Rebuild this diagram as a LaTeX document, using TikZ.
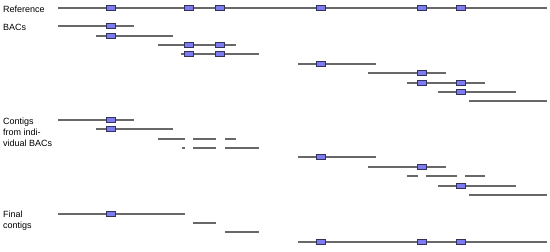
\documentclass[tikz,border=0pt]{standalone}
\usepackage{fontspec}
\setmainfont{Liberation Sans}
\usepackage{tikz}
\usetikzlibrary{positioning}

\definecolor{seqgray}{RGB}{104,104,104}
\definecolor{mkfill}{RGB}{124,124,240}
\definecolor{mkdraw}{RGB}{50,50,90}

\begin{document}
\begin{tikzpicture}[
        x=1pt, y=-1pt,
        font=\fontsize{9}{11}\selectfont,
        % clone / contig lines and the shared marker boxes
        seq/.style   ={draw=seqgray, line width=1.1pt},
        mk/.style    ={draw=mkdraw, fill=mkfill, line width=0.7pt,
                       minimum width=9pt, minimum height=5pt, inner sep=0pt},
        % base of a multi-line label is its last line
        rowlabel/.style={anchor=base west, align=left, inner sep=0pt}
    ]
    \useasboundingbox (0,0) rectangle (550,252);

    %% ===== Reference =====
    \node[rowlabel] (lref) at (3,12) {Reference};
    \coordinate (ref0) at (58,8); \coordinate (ref1) at (547,8);
    \draw[seq] (ref0) -- (ref1);
    \node[mk] (refA) at (111,8) {}; \node[mk] (refB) at (189,8) {};
    \node[mk] (refC) at (220,8) {}; \node[mk] (refD) at (321,8) {};
    \node[mk] (refE) at (422,8) {}; \node[mk] (refF) at (461,8) {};

    %% ===== BACs =====
    \node[rowlabel] (lbac) at (3,30) {BACs};
    \coordinate (b1a) at (58,26);  \coordinate (b1b) at (134,26);  \draw[seq] (b1a) -- (b1b);
    \coordinate (b2a) at (96,36);  \coordinate (b2b) at (173,36);  \draw[seq] (b2a) -- (b2b);
    \coordinate (b3a) at (158,45); \coordinate (b3b) at (236,45);  \draw[seq] (b3a) -- (b3b);
    \coordinate (b4a) at (181,54); \coordinate (b4b) at (259,54);  \draw[seq] (b4a) -- (b4b);
    \coordinate (b5a) at (298,64); \coordinate (b5b) at (376,64);  \draw[seq] (b5a) -- (b5b);
    \coordinate (b6a) at (368,73); \coordinate (b6b) at (446,73);  \draw[seq] (b6a) -- (b6b);
    \coordinate (b7a) at (407,83); \coordinate (b7b) at (485,83);  \draw[seq] (b7a) -- (b7b);
    \coordinate (b8a) at (438,92); \coordinate (b8b) at (516,92);  \draw[seq] (b8a) -- (b8b);
    \coordinate (b9a) at (469,101); \coordinate (b9b) at (547,101); \draw[seq] (b9a) -- (b9b);
    \node[mk] (b1m) at (111,26) {};
    \node[mk] (b2m) at (111,36) {};
    \node[mk] (b3m) at (189,45) {}; \node[mk] (b3n) at (220,45) {};
    \node[mk] (b4m) at (189,54) {}; \node[mk] (b4n) at (220,54) {};
    \node[mk] (b5m) at (321,64) {};
    \node[mk] (b6m) at (422,73) {};
    \node[mk] (b7m) at (422,83) {}; \node[mk] (b7n) at (461,83) {};
    \node[mk] (b8m) at (461,92) {};

    %% ===== Contigs from individual BACs =====
    \node[rowlabel] (lctg) at (3,146) {Contigs\\from indi-\\vidual BACs};
    \coordinate (c1a) at (58,120); \coordinate (c1b) at (134,120); \draw[seq] (c1a) -- (c1b);
    \coordinate (c2a) at (96,129); \coordinate (c2b) at (173,129); \draw[seq] (c2a) -- (c2b);
    % BAC 3 and 4 break up into pieces
    \coordinate (c3a) at (158,139); \coordinate (c3b) at (185,139); \draw[seq] (c3a) -- (c3b);
    \coordinate (c3c) at (193,139); \coordinate (c3d) at (216,139); \draw[seq] (c3c) -- (c3d);
    \coordinate (c3e) at (225,139); \coordinate (c3f) at (236,139); \draw[seq] (c3e) -- (c3f);
    \coordinate (c4a) at (182,148); \coordinate (c4b) at (185,148); \draw[seq] (c4a) -- (c4b);
    \coordinate (c4c) at (193,148); \coordinate (c4d) at (216,148); \draw[seq] (c4c) -- (c4d);
    \coordinate (c4e) at (225,148); \coordinate (c4f) at (259,148); \draw[seq] (c4e) -- (c4f);
    \coordinate (c5a) at (298,157); \coordinate (c5b) at (376,157); \draw[seq] (c5a) -- (c5b);
    \coordinate (c6a) at (368,167); \coordinate (c6b) at (446,167); \draw[seq] (c6a) -- (c6b);
    \coordinate (c7a) at (407,176); \coordinate (c7b) at (418,176); \draw[seq] (c7a) -- (c7b);
    \coordinate (c7c) at (426,176); \coordinate (c7d) at (457,176); \draw[seq] (c7c) -- (c7d);
    \coordinate (c7e) at (465,176); \coordinate (c7f) at (485,176); \draw[seq] (c7e) -- (c7f);
    \coordinate (c8a) at (438,186); \coordinate (c8b) at (516,186); \draw[seq] (c8a) -- (c8b);
    \coordinate (c9a) at (469,195); \coordinate (c9b) at (547,195); \draw[seq] (c9a) -- (c9b);
    \node[mk] (c1m) at (111,120) {};
    \node[mk] (c2m) at (111,129) {};
    \node[mk] (c5m) at (321,157) {};
    \node[mk] (c6m) at (422,167) {};
    \node[mk] (c8m) at (461,186) {};

    %% ===== Final contigs =====
    \node[rowlabel] (lfin) at (3,228) {Final\\contigs};
    \coordinate (f1a) at (58,214);  \coordinate (f1b) at (185,214); \draw[seq] (f1a) -- (f1b);
    \coordinate (f2a) at (193,223); \coordinate (f2b) at (216,223); \draw[seq] (f2a) -- (f2b);
    \coordinate (f3a) at (225,232); \coordinate (f3b) at (259,232); \draw[seq] (f3a) -- (f3b);
    \coordinate (f4a) at (298,242); \coordinate (f4b) at (547,242); \draw[seq] (f4a) -- (f4b);
    \node[mk] (f1m) at (111,214) {};
    \node[mk] (f4m) at (321,242) {}; \node[mk] (f4n) at (422,242) {};
    \node[mk] (f4o) at (461,242) {};

\end{tikzpicture}
\end{document}
